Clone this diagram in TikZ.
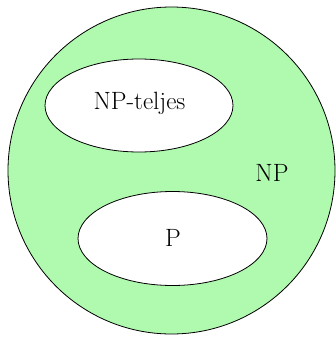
\documentclass[tikz,border=0pt]{standalone}
\usepackage{fontspec}
\definecolor{npgreen}{RGB}{176,250,176}
\begin{document}
\begin{tikzpicture}[x=1pt,y=-1pt,
  setshape/.style={draw=black,line width=0.8pt},
  lbl/.style={font=\fontsize{25}{29}\selectfont,inner sep=0pt}]
\useasboundingbox (0,0) rectangle (336,338);
\draw[setshape,fill=npgreen] (171.5,170.5) circle[radius=163.5];
\draw[setshape,fill=white] (139,105.5) ellipse[x radius=94,y radius=46.5];
\draw[setshape,fill=white] (172.5,238.5) ellipse[x radius=94.5,y radius=47];
\node[lbl] (npc) at (139.5,103) {NP-teljes};
\node[lbl] (p) at (173,238) {P};
\node[lbl] (np) at (272,172.5) {NP};
\end{tikzpicture}
\end{document}
